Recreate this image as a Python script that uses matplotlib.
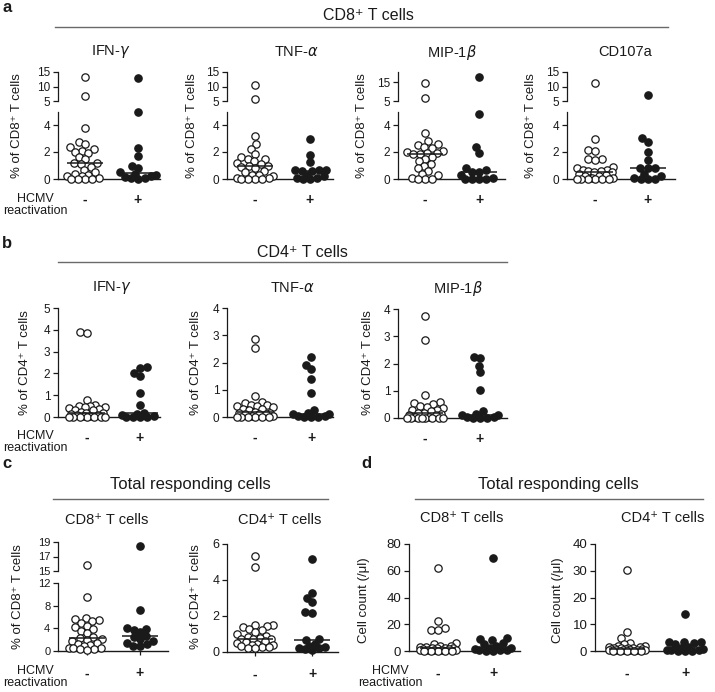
import numpy as np
import matplotlib
matplotlib.use("Agg")
import matplotlib.pyplot as plt
from matplotlib.lines import Line2D

plt.rcParams['font.family'] = ['Liberation Sans', 'DejaVu Sans']
plt.rcParams['mathtext.fontset'] = 'dejavusans'

# ---------------- data ----------------
group_labels = ['-', '+']

# panel a: CD8+ T cells (% of CD8+ T cells)
a_ifng_neg = [13.4, 6.8, 3.75, 2.75, 2.6, 2.35, 2.2, 2.1, 2.0, 1.9, 1.6, 1.45, 1.2, 1.15,
              1.1, 0.9, 0.7, 0.5, 0.4, 0.3, 0.25, 0.2, 0.05, 0.0, 0.0, 0.0, 0.0]
a_ifng_pos = [13.0, 4.95, 2.3, 1.7, 0.95, 0.85, 0.5, 0.4, 0.3, 0.2, 0.15, 0.1, 0.05, 0.0]
a_tnfa_neg = [10.4, 5.6, 3.2, 2.6, 2.25, 1.85, 1.65, 1.5, 1.45, 1.3, 1.2, 1.1, 1.0, 0.95,
              0.9, 0.8, 0.6, 0.5, 0.3, 0.3, 0.2, 0.1, 0.05, 0.0, 0.0, 0.0, 0.0]
a_tnfa_pos = [3.0, 1.75, 1.25, 0.7, 0.68, 0.65, 0.62, 0.6, 0.3, 0.2, 0.1, 0.05, 0.0, 0.0]
a_mip_neg = [14.6, 6.5, 3.4, 2.8, 2.6, 2.5, 2.4, 2.3, 2.1, 2.0, 1.95, 1.9, 1.85, 1.85,
             1.6, 1.5, 1.3, 1.1, 1.0, 0.8, 0.6, 0.4, 0.3, 0.1, 0.0, 0.0, 0.0]
a_mip_pos = [18.0, 4.85, 2.35, 1.9, 0.85, 0.65, 0.55, 0.5, 0.3, 0.1, 0.0, 0.0, 0.0, 0.0]
a_cd107_neg = [11.1, 2.95, 2.15, 2.1, 1.5, 1.45, 1.4, 0.9, 0.8, 0.7, 0.65, 0.6, 0.6, 0.55,
               0.5, 0.4, 0.3, 0.2, 0.2, 0.1, 0.05, 0.0, 0.0, 0.0, 0.0, 0.0, 0.0]
a_cd107_pos = [7.1, 3.05, 2.75, 2.0, 1.4, 0.85, 0.8, 0.8, 0.4, 0.2, 0.05, 0.0, 0.0, 0.0]

# panel b: CD4+ T cells (% of CD4+ T cells)
b_ifng_neg = [3.9, 3.85, 0.8, 0.55, 0.5, 0.5, 0.45, 0.45, 0.4, 0.35, 0.3, 0.3, 0.25, 0.2,
              0.2, 0.15, 0.1, 0.1, 0.05, 0.05, 0.0, 0.0, 0.0, 0.0, 0.0, 0.0, 0.0]
b_ifng_pos = [2.3, 2.25, 2.0, 1.9, 1.1, 0.55, 0.2, 0.15, 0.1, 0.05, 0.0, 0.0, 0.0, 0.0]
b_tnfa_neg = [2.85, 2.55, 0.78, 0.55, 0.5, 0.45, 0.45, 0.4, 0.4, 0.35, 0.3, 0.3, 0.25, 0.2,
              0.15, 0.15, 0.1, 0.1, 0.1, 0.05, 0.05, 0.0, 0.0, 0.0, 0.0, 0.0, 0.0]
b_tnfa_pos = [2.2, 1.9, 1.75, 1.4, 0.88, 0.26, 0.15, 0.1, 0.1, 0.05, 0.05, 0.0, 0.0, 0.0]
b_mip_neg = [3.75, 2.85, 0.85, 0.6, 0.55, 0.5, 0.45, 0.4, 0.35, 0.3, 0.3, 0.25, 0.2, 0.2,
             0.15, 0.1, 0.1, 0.05, 0.05, 0.0, 0.0, 0.0, 0.0, 0.0, 0.0, 0.0, 0.0]
b_mip_pos = [2.25, 2.2, 1.92, 1.68, 1.02, 0.25, 0.15, 0.1, 0.1, 0.05, 0.05, 0.0, 0.0, 0.0]

# panel c: total responding cells (%)
c_cd8_neg = [15.8, 9.6, 5.8, 5.6, 5.5, 5.3, 4.9, 4.5, 4.2, 3.8, 3.5, 3.2, 2.5, 2.3,
             2.2, 2.0, 1.8, 1.5, 1.2, 1.0, 0.8, 0.6, 0.5, 0.5, 0.4, 0.3, 0.2]
c_cd8_pos = [18.5, 7.2, 4.0, 3.9, 3.7, 3.4, 2.7, 2.5, 2.2, 1.8, 1.5, 1.2, 0.9, 0.8]
c_cd4_neg = [5.33, 4.7, 1.5, 1.5, 1.45, 1.4, 1.3, 1.2, 1.1, 1.0, 0.9, 0.85, 0.8, 0.75,
             0.7, 0.7, 0.6, 0.55, 0.5, 0.45, 0.4, 0.4, 0.35, 0.3, 0.3, 0.25, 0.2]
c_cd4_pos = [5.17, 3.26, 2.98, 2.76, 2.2, 2.15, 0.72, 0.68, 0.45, 0.35, 0.3, 0.25, 0.2, 0.15, 0.1]

# panel d: total responding cells (cell count /ul)
d_cd8_neg = [62.3, 22.4, 17.0, 15.7, 15.5, 6.0, 5.0, 4.0, 3.5, 3.0, 3.0, 2.5, 2.0, 2.0,
             2.0, 1.5, 1.5, 1.0, 1.0, 1.0, 0.5, 0.5, 0.0, 0.0, 0.0, 0.0, 0.0]
d_cd8_pos = [69.8, 10.0, 9.0, 8.2, 6.0, 5.0, 4.0, 2.0, 2.0, 1.5, 1.0, 0.5, 0.5, 0.0, 0.0]
d_cd4_neg = [30.1, 7.2, 4.8, 3.0, 2.5, 2.0, 1.8, 1.5, 1.5, 1.2, 1.0, 1.0, 1.0, 0.9,
             0.8, 0.8, 0.5, 0.5, 0.5, 0.3, 0.3, 0.2, 0.1, 0.0, 0.0, 0.0, 0.0]
d_cd4_pos = [13.9, 3.5, 3.3, 3.2, 3.0, 2.5, 1.5, 1.25, 0.8, 0.5, 0.3, 0.2, 0.1, 0.0, 0.0]

# ---------------- figure ----------------
W, H = 715, 692
fig = plt.figure(figsize=(W / 100, H / 100), dpi=100)
INK = '#1a1a1a'
RULE = '#6a6a6a'
MS = 28
DIAM = 6.6
MAXW = 18.0


def add_ax(x0, x1, ytop, ybot):
    return fig.add_axes([x0 / W, 1 - ybot / H, (x1 - x0) / W, (ybot - ytop) / H])


def ftext(x, y, s, **kw):
    kw.setdefault('ha', 'center')
    kw.setdefault('va', 'center')
    kw.setdefault('color', INK)
    fig.text(x / W, 1 - y / H, s, **kw)


def hrule(x0, x1, y):
    fig.add_artist(Line2D([x0 / W, x1 / W], [1 - y / H, 1 - y / H],
                          transform=fig.transFigure, color=RULE, lw=1.0))


def style(ax, xlim, ylim, yticks, fs, bottom=True, xpad=10, xtick_len=0):
    ax.set_xlim(*xlim)
    ax.set_ylim(*ylim)
    ax.set_yticks(yticks)
    ax.patch.set_alpha(0)
    for s in ['top', 'right']:
        ax.spines[s].set_visible(False)
    ax.spines['left'].set_color(INK)
    ax.spines['left'].set_linewidth(0.9)
    ax.tick_params(axis='y', direction='out', length=3.5, width=0.9, color=INK,
                   labelsize=fs, pad=2, labelcolor=INK)
    if bottom:
        ax.spines['bottom'].set_color(INK)
        ax.spines['bottom'].set_linewidth(1.0)
        ax.set_xticks([1, 3])
        ax.set_xticklabels(group_labels, fontsize=10, fontweight='bold', color=INK)
        ax.tick_params(axis='x', length=xtick_len, width=0.9, color=INK, pad=xpad)
    else:
        ax.spines['bottom'].set_visible(False)
        ax.set_xticks([])


GRID = np.arange(-MAXW, MAXW + 0.01, 0.5)
GRID = GRID[np.argsort(np.abs(GRID) + 1e-3 * (GRID > 0))]


def swarm_x(ax, xc, vals, d=DIAM):
    """Beeswarm offsets in pixel space, limited to +-MAXW (overlap allowed when crowded)."""
    vals = np.asarray(vals, float)
    if vals.size == 0:
        return vals
    pix = ax.transData.transform(np.column_stack([np.full(vals.size, xc), vals]))
    x0 = pix[0, 0]
    ys = pix[:, 1]
    order = np.argsort(vals, kind='stable')
    placed = np.empty((0, 2))
    out = np.zeros(vals.size)
    for i in order:
        y = ys[i]
        if placed.shape[0] == 0:
            c = 0.0
        else:
            dist = np.sqrt((GRID[:, None] - placed[None, :, 0]) ** 2 +
                           (y - placed[None, :, 1]) ** 2).min(axis=1)
            ok = np.where(dist >= d - 1e-6)[0]
            c = GRID[ok[0]] if ok.size else GRID[np.argmax(dist)]
        placed = np.vstack([placed, [c, y]])
        out[i] = c
    return ax.transData.inverted().transform(np.column_stack([x0 + out, ys]))[:, 0]


def draw_group(segments, xc, vals, filled, half_px, scale):
    vals = np.asarray(vals, float)
    for ax, lo, hi in segments:
        sel = vals[(vals > lo) & (vals <= hi)]
        xs = swarm_x(ax, xc, sel)
        ax.scatter(xs, sel, s=MS, facecolor=INK if filled else 'white',
                   edgecolor=INK, linewidth=0.9, zorder=3, clip_on=False)
    med = np.median(vals)
    lower = segments[-1][0]
    hw = half_px / scale
    lower.plot([xc - hw, xc + hw], [med, med], color=INK, lw=1.1, zorder=4,
               solid_capstyle='butt', clip_on=False)


def make_panel(x0, x1, g1, g2, segs, neg, pos, fs, xpad, xtick_len=0):
    """segs: list of (ytop_px, ybot_px, ylim, yticks) from top to bottom"""
    scale = (g2 - g1) / 2.0
    xlim = (1 - (g1 - x0) / scale, 1 + (x1 - g1) / scale)
    axes = []
    for k, (yt, yb, ylim, yticks) in enumerate(segs):
        ax = add_ax(x0, x1, yt, yb)
        last = (k == len(segs) - 1)
        style(ax, xlim, ylim, yticks, fs, bottom=last, xpad=xpad, xtick_len=xtick_len)
        axes.append((ax, ylim))
    segments = []
    for k, (ax, ylim) in enumerate(axes):
        lo = -np.inf if k == len(axes) - 1 else ylim[0]
        hi = np.inf if k == 0 else ylim[1]
        segments.append((ax, lo, hi))
    draw_group(segments, 1, neg, False, 18, scale)
    draw_group(segments, 3, pos, True, 18, scale)


# ---------------- panel a ----------------
FS_AB = 8.5
up_std = (5, 15)
a_specs = [
    (58, 160, 85, 138, up_std, [5, 10, 15], a_ifng_neg, a_ifng_pos),
    (227, 333, 255, 310, up_std, [5, 10, 15], a_tnfa_neg, a_tnfa_pos),
    (398, 505, 425, 479, (5, 20.6), [5, 15], a_mip_neg, a_mip_pos),
    (567, 675, 595, 648, up_std, [5, 10, 15], a_cd107_neg, a_cd107_pos),
]
for x0, x1, g1, g2, uplim, upt, neg, pos in a_specs:
    make_panel(x0, x1, g1, g2,
               [(72, 101, uplim, upt), (111.5, 179, (0, 5), [0, 2, 4])],
               neg, pos, FS_AB, xpad=10)

ftext(7, 8, 'a', fontsize=12, fontweight='bold')
ftext(368, 16, 'CD8⁺ T cells', fontsize=11.5)
hrule(55, 668, 27)
for x, s in [(111, r'IFN-$\gamma$'), (296, r'TNF-$\alpha$'), (452, r'MIP-1$\beta$'), (625, 'CD107a')]:
    ftext(x, 52, s, fontsize=10.5)
for x in [17, 192, 362, 531]:
    ftext(x, 126, '% of CD8⁺ T cells', fontsize=9.5, rotation=90)
ftext(35, 205, 'HCMV\nreactivation', fontsize=9, linespacing=1.0)

# ---------------- panel b ----------------
b_specs = [
    (58, 160, 87, 140, 308, 417, (0, 5), [0, 1, 2, 3, 4, 5], b_ifng_neg, b_ifng_pos),
    (227, 333, 255, 311, 308, 417, (0, 4), [0, 1, 2, 3, 4], b_tnfa_neg, b_tnfa_pos),
    (398, 507, 425, 480, 309, 418, (0, 4), [0, 1, 2, 3, 4], b_mip_neg, b_mip_pos),
]
for x0, x1, g1, g2, yt, yb, ylim, yt_ticks, neg, pos in b_specs:
    make_panel(x0, x1, g1, g2, [(yt, yb, ylim, yt_ticks)], neg, pos, FS_AB, xpad=10)

ftext(7, 244, 'b', fontsize=12, fontweight='bold')
ftext(302, 253, 'CD4⁺ T cells', fontsize=11.5)
hrule(58, 507, 262)
for x, s in [(112, r'IFN-$\gamma$'), (292, r'TNF-$\alpha$'), (458, r'MIP-1$\beta$')]:
    ftext(x, 288, s, fontsize=10.5)
for x in [25, 196, 368]:
    ftext(x, 363, '% of CD4⁺ T cells', fontsize=9.5, rotation=90)
ftext(35, 442, 'HCMV\nreactivation', fontsize=9, linespacing=1.0)

# ---------------- panel c ----------------
make_panel(58, 168, 87, 140,
           [(542, 571, (15, 19), [15, 17, 19]), (583, 651, (0, 12), [0, 4, 8, 12])],
           c_cd8_neg, c_cd8_pos, 8, xpad=8, xtick_len=3)
make_panel(227, 338, 255, 312,
           [(544, 652, (0, 6), [0, 2, 4, 6])],
           c_cd4_neg, c_cd4_pos, 9, xpad=8, xtick_len=3)
ftext(7, 463, 'c', fontsize=12, fontweight='bold')
ftext(190, 485, 'Total responding cells', fontsize=12)
hrule(53, 328, 499)
ftext(107, 520, 'CD8⁺ T cells', fontsize=10.5)
ftext(280, 520, 'CD4⁺ T cells', fontsize=10.5)
ftext(18, 597, '% of CD8⁺ T cells', fontsize=9.5, rotation=90)
ftext(196, 597, '% of CD4⁺ T cells', fontsize=9.5, rotation=90)
ftext(35, 677, 'HCMV\nreactivation', fontsize=9, linespacing=1.0)

# ---------------- panel d ----------------
make_panel(409, 520, 438, 493,
           [(544, 651, (0, 80), [0, 20, 40, 60, 80])],
           d_cd8_neg, d_cd8_pos, 9.5, xpad=11)
make_panel(595, 705, 627, 685,
           [(544, 651, (0, 40), [0, 10, 20, 30, 40])],
           d_cd4_neg, d_cd4_pos, 9.5, xpad=11)
ftext(366, 463, 'd', fontsize=12, fontweight='bold')
ftext(558, 485, 'Total responding cells', fontsize=12)
hrule(415, 703, 499)
ftext(462, 518, 'CD8⁺ T cells', fontsize=10.5)
ftext(663, 518, 'CD4⁺ T cells', fontsize=10.5)
ftext(364, 600, 'Cell count (/μl)', fontsize=9.5, rotation=90)
ftext(558, 600, 'Cell count (/μl)', fontsize=9.5, rotation=90)
ftext(390, 677, 'HCMV\nreactivation', fontsize=9, linespacing=1.0)

fig.savefig('out.png', dpi=100, facecolor='white')
